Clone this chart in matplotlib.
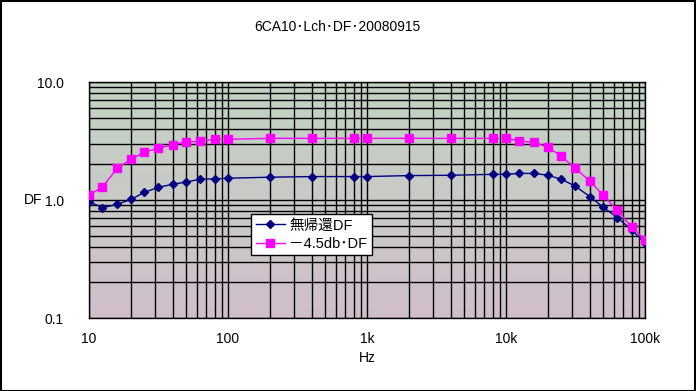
import numpy as np
import matplotlib
matplotlib.use("Agg")
import matplotlib.pyplot as plt
from matplotlib.ticker import FixedLocator, LogLocator, NullFormatter

plt.rcParams['font.family'] = ['Liberation Sans', 'Noto Sans CJK JP', 'DejaVu Sans']

freq = [10, 12.5, 16, 20, 25, 31.5, 40, 50, 63, 80, 100, 200, 400, 800, 1000,
        2000, 4000, 8000, 10000, 12500, 16000, 20000, 25000, 31500, 40000,
        50000, 63000, 80000, 100000]
df_nfb0 = [0.97, 0.86, 0.92, 1.01, 1.16, 1.28, 1.36, 1.42, 1.50, 1.51, 1.53,
           1.56, 1.58, 1.58, 1.58, 1.61, 1.62, 1.65, 1.65, 1.68, 1.68, 1.62,
           1.50, 1.31, 1.07, 0.87, 0.71, 0.56, 0.43]
df_45db = [1.10, 1.29, 1.86, 2.21, 2.55, 2.74, 2.94, 3.10, 3.14, 3.27, 3.27,
           3.33, 3.33, 3.33, 3.33, 3.33, 3.33, 3.33, 3.33, 3.16, 3.08, 2.80,
           2.35, 1.86, 1.45, 1.10, 0.82, 0.59, 0.46]
xticks = [10, 100, 1000, 10000, 100000]
xlabels = ['10', '100', '1k', '10k', '100k']
yticks = [0.1, 1.0, 10.0]
ylabels = ['0.1', '1.0', '10.0']

fig = plt.figure(figsize=(6.96, 3.91), dpi=100)
ax = fig.add_axes([89 / 696, 1 - 318 / 391, 556 / 696, 236 / 391])

# greenish top -> pinkish bottom background, like the dithered Excel fill
grad = np.linspace(0, 1, 256).reshape(-1, 1)
top = np.array([0.76, 0.83, 0.76])
bot = np.array([0.82, 0.75, 0.80])
img = top + (bot - top) * grad[..., None]
ax.imshow(img, extent=[0, 1, 0, 1], transform=ax.transAxes, aspect='auto',
          zorder=0, origin='upper')

ax.set_xscale('log')
ax.set_yscale('log')
ax.set_xlim(10, 100000)
ax.set_ylim(0.1, 10)

ax.xaxis.set_major_locator(FixedLocator(xticks))
ax.yaxis.set_major_locator(FixedLocator(yticks))
ax.set_xticklabels(xlabels)
ax.set_yticklabels(ylabels)
ax.xaxis.set_minor_locator(LogLocator(base=10, subs=np.arange(2, 10)))
ax.yaxis.set_minor_locator(LogLocator(base=10, subs=np.arange(2, 10)))
ax.xaxis.set_minor_formatter(NullFormatter())
ax.yaxis.set_minor_formatter(NullFormatter())
ax.grid(True, which='both', color='black', linewidth=1.0)
ax.set_axisbelow(False)
ax.tick_params(which='both', length=0, labelsize=10, pad=10)
ax.tick_params(axis='y', pad=18)
for s in ax.spines.values():
    s.set_color('black')
    s.set_linewidth(1.0)

ax.plot(freq, df_nfb0, color='#000080', marker='D', markersize=4,
        linewidth=1.0, label='無帰還DF', zorder=3)
ax.plot(freq, df_45db, color='#FF00FF', marker='s', markersize=5.5,
        linewidth=1.0, label='－4.5db･DF', zorder=3)

leg = ax.legend(loc='upper left', bbox_to_anchor=(0.292, 0.44), fontsize=10.5,
                frameon=True, fancybox=False, borderpad=0.3, labelspacing=0.3,
                handlelength=2.0, handletextpad=0.3, borderaxespad=0)
leg.get_frame().set_edgecolor('black')
leg.get_frame().set_linewidth(1.0)
leg.get_frame().set_alpha(1)

fig.text(337 / 696, 1 - 27 / 391, '6CA10･Lch･DF･20080915', ha='center',
         va='center', fontsize=10)
fig.text(367 / 696, 1 - 358 / 391, 'Hz', ha='center', va='center', fontsize=10)
fig.text(33 / 696, 1 - 200 / 391, 'DF', ha='center', va='center', fontsize=10)

fig.patches.append(plt.Rectangle((0.001, 0.001), 0.998, 0.997, fill=False,
                                 edgecolor='black', linewidth=1.5,
                                 transform=fig.transFigure, figure=fig))

fig.savefig('out.png', dpi=100)
